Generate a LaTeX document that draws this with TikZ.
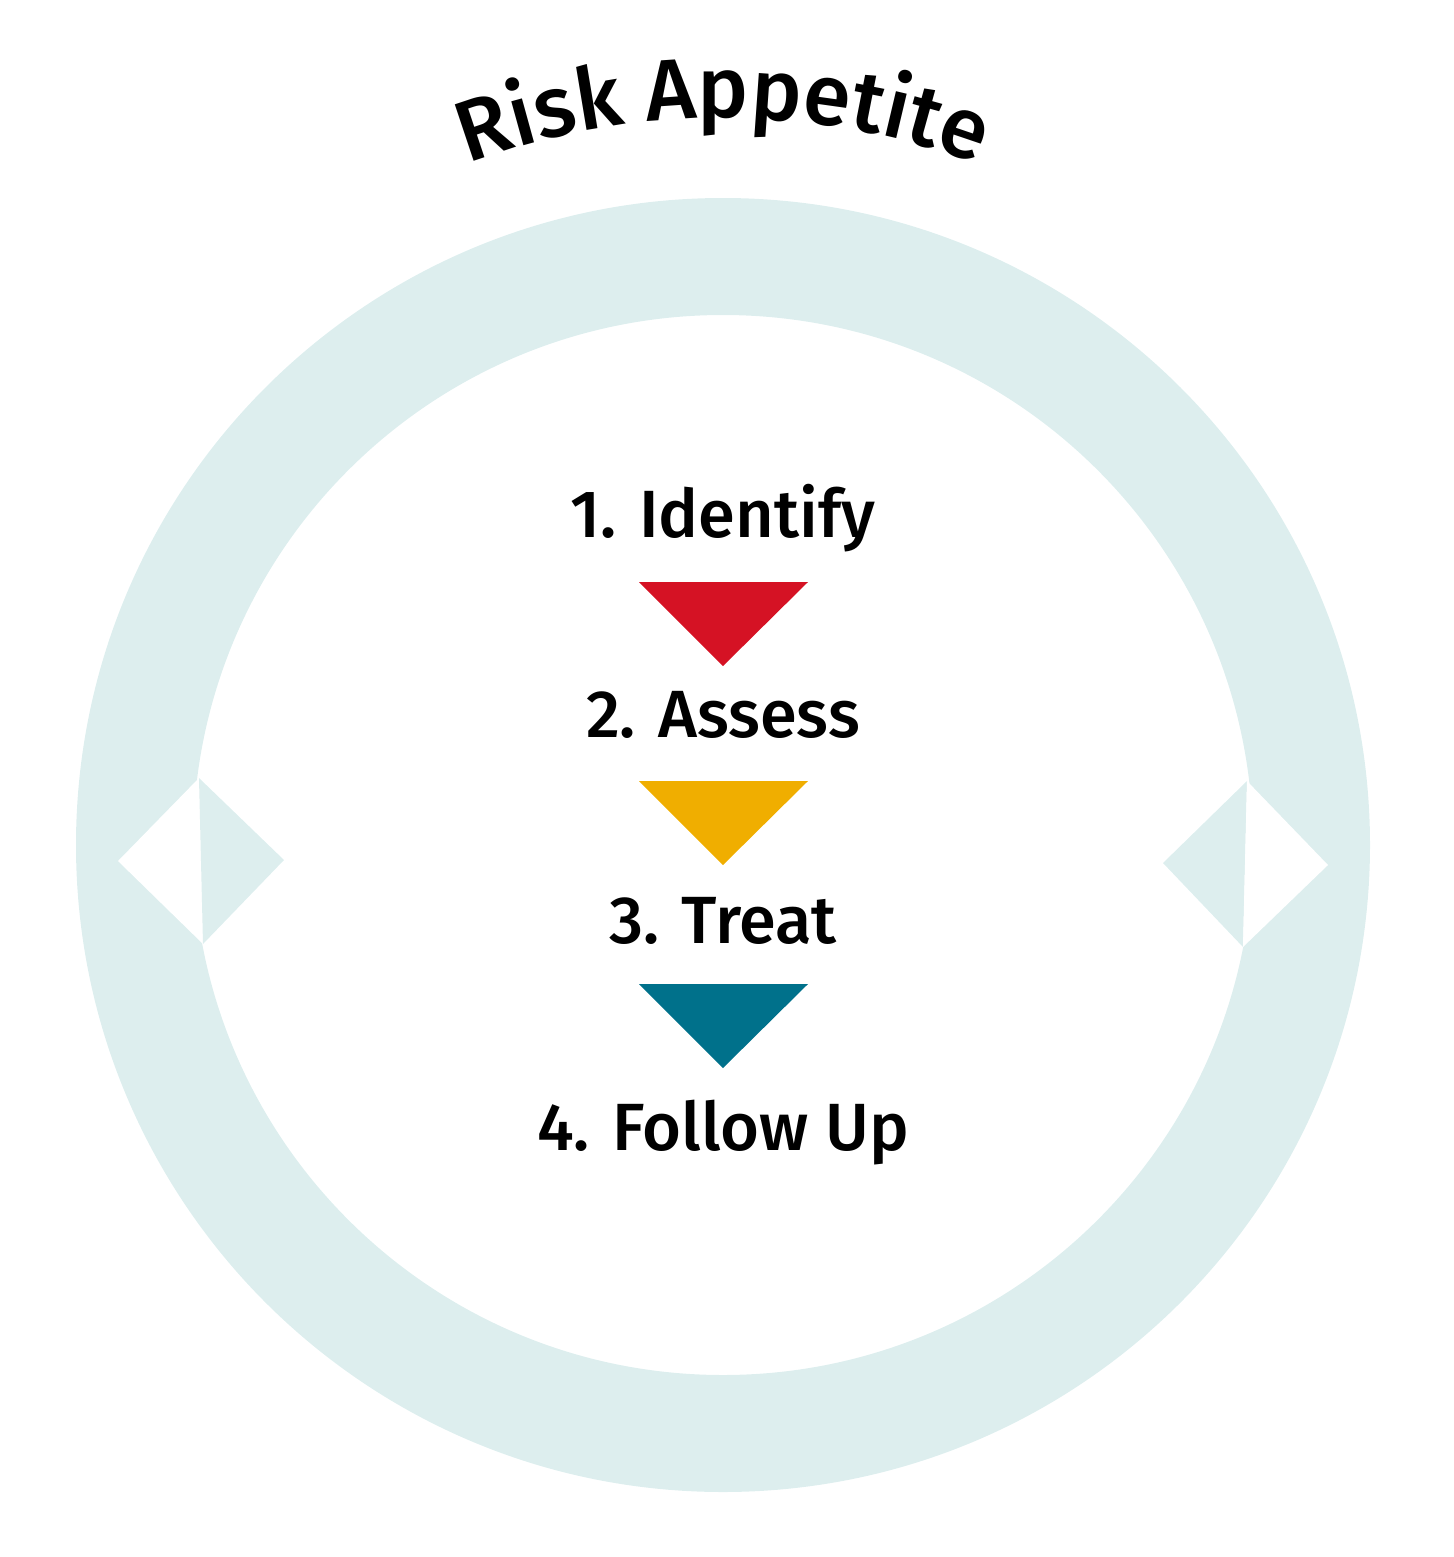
\documentclass[tikz,border=0pt]{standalone}
\usepackage{fontspec}
\setmainfont{Fira Sans}[UprightFont={* Medium}]
\usetikzlibrary{decorations.text}
\definecolor{ringteal}{RGB}{221,238,238}
\definecolor{riskred}{RGB}{213,18,36}
\definecolor{riskyellow}{RGB}{240,174,0}
\definecolor{riskteal}{RGB}{0,113,139}
\tikzset{
	steplabel/.style={anchor=base, inner sep=0pt, font=\fontsize{19}{22}\selectfont},
}
\begin{document}
\begin{tikzpicture}[x=0.01cm, y=-0.01cm]
		\useasboundingbox (0,0) rectangle (1453,1557);
		\coordinate (c) at (723,845);
		% ring
		\fill[ringteal, even odd rule] (c) circle[radius=647] (c) circle[radius=530];
		% arrow heads on the ring
		\fill[white] (118,861) -- (199,778) -- (203,944) -- cycle;
		\fill[ringteal] (199,778) -- (284,860) -- (203,944) -- cycle;
		\fill[ringteal] (1163,863) -- (1247,781) -- (1243,947) -- cycle;
		\fill[white] (1247,781) -- (1328,865) -- (1243,947) -- cycle;
		% title
		\path[decorate, decoration={text along path, text align=center,
			text format delimiters={|}{|},
			text={|\fontsize{24.5}{28}\selectfont|Risk Appetite}}]
			(c) ++(232:727) arc[start angle=232, end angle=308, radius=727];
		% steps
		\node[steplabel] (identify) at (723,537) {1. Identify};
		\node[steplabel] (assess) at (723,737) {2. Assess};
		\node[steplabel] (treat) at (723,943) {3. Treat};
		\node[steplabel] (follow) at (723,1150) {4. Follow Up};
		\foreach \y/\col in {582/riskred, 781/riskyellow, 984/riskteal}
			\fill[\col] (639,\y) -- (808,\y) -- (723,\y+84) -- cycle;
	\end{tikzpicture}
\end{document}
